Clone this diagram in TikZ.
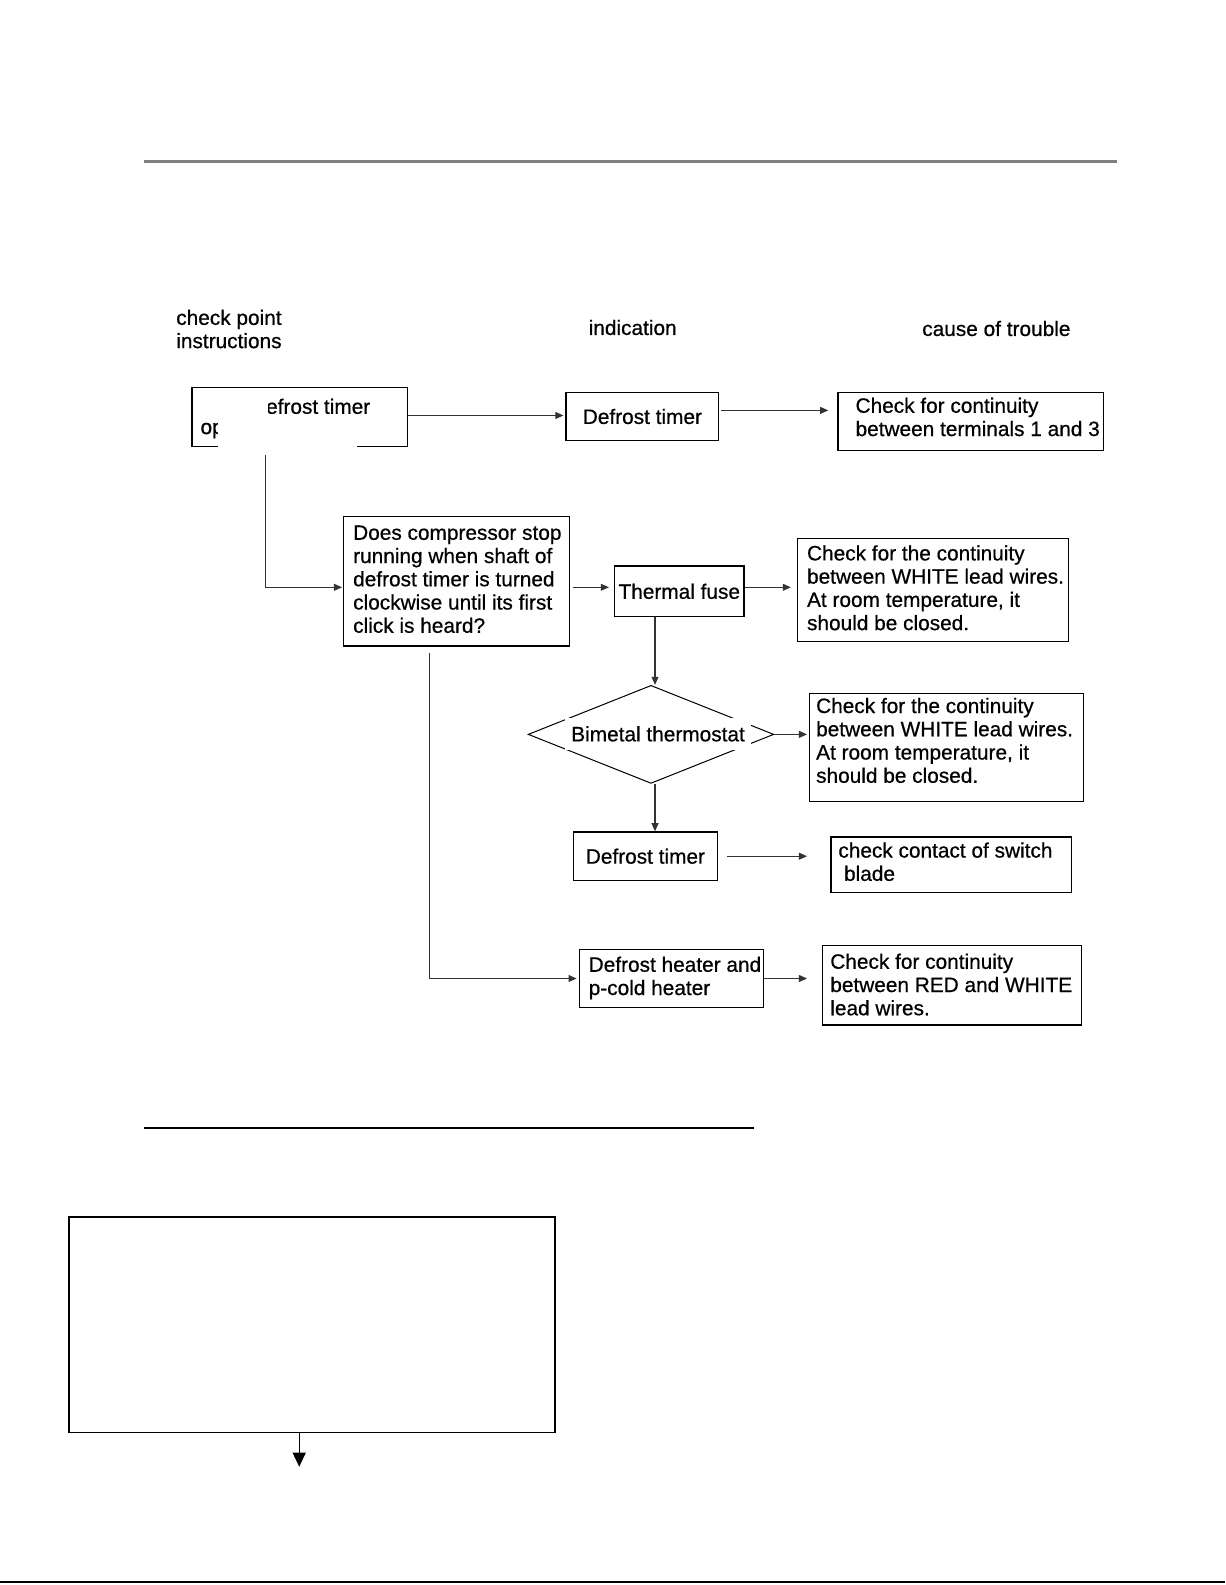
\documentclass[tikz,border=0pt]{standalone}
\usepackage{fontspec}
\setmainfont{Liberation Sans}
\newfontfamily\diagfont{Liberation Sans}[FakeBold=0.6]
\usetikzlibrary{arrows.meta,shapes.geometric}
\begin{document}
\begin{tikzpicture}[x=0.5pt,y=-0.5pt,
  txt/.style={font=\diagfont\fontsize{10.3pt}{11.5pt}\selectfont, inner sep=0pt, align=left},
  box/.style={draw=black, line width=0.6pt, inner sep=0pt, font=\diagfont\fontsize{10.3pt}{11.5pt}\selectfont, align=center},
  arr/.style={draw=black!80, line width=0.55pt, -{Triangle[length=4pt,width=3.4pt]}},
  bigarr/.style={draw=black, line width=0.5pt, -{Triangle[length=7pt,width=6.5pt]}}]
\useasboundingbox (0,0) rectangle (1212,1568);
\fill[white] (0,0) rectangle (1212,1568);

% rules
\draw[line width=1.5pt, draw=black!50] (142,160) -- (1105,160);
\draw[line width=1pt] (142,1116) -- (746,1116);
\draw[line width=1pt] (0,1565) -- (1212,1565);

% headers
\node[txt, anchor=west] (h1) at (174,325.5) {check point\\instructions};
\node[txt, anchor=west] (h2) at (582,324) {indication};
\node[txt, anchor=west] (h3) at (912,325) {cause of trouble};

% boxes
\node[box, minimum width=106.5pt, minimum height=29.5pt] (A) at (296.5,412.5) {};
\node[txt, anchor=west] (At1) at (248,402) {Defrost timer};
\node[txt, anchor=west] (At2) at (198,426) {op};

\node[box, minimum width=75.5pt, minimum height=24pt] (B1) at (635.5,412) {Defrost timer};
\node[box, minimum width=131.5pt, minimum height=29pt] (C1) at (960.5,417) {};
\node[txt, anchor=west] (C1t) at (846,412.5) {Check for continuity\\between terminals 1 and 3};

\node[box, minimum width=111.5pt, minimum height=64pt] (D) at (451.5,575) {};
\node[txt, anchor=west] (Dt) at (349,573) {Does compressor stop\\running when shaft of\\defrost timer is turned\\clockwise until its first\\click is heard?};

\node[box, minimum width=64pt, minimum height=25pt] (E) at (672,585) {Thermal fuse};
\node[box, minimum width=134pt, minimum height=51pt] (F1) at (923,584) {};
\node[txt, anchor=west] (F1t) at (798,581.5) {Check for the continuity\\between WHITE lead wires.\\At room temperature, it\\should be closed.};

\node[draw=black, line width=0.5pt, diamond, minimum width=121.5pt, minimum height=48.5pt, inner sep=0pt] (G) at (644,726.5) {};
\node[txt, fill=white, inner xsep=3pt, inner ysep=4.2pt] (Gt) at (651,726) {Bimetal thermostat};

\node[box, minimum width=135.5pt, minimum height=53.5pt] (H1) at (936.5,739.5) {};
\node[txt, anchor=west] (H1t) at (807,732.5) {Check for the continuity\\between WHITE lead wires.\\At room temperature, it\\should be closed.};

\node[box, minimum width=71.5pt, minimum height=24pt] (I) at (638.5,847) {Defrost timer};
\node[box, minimum width=119pt, minimum height=27.5pt] (J) at (941,855.5) {};
\node[txt, anchor=west] (Jt) at (829,852.5) {check contact of switch\\\hspace*{2.8pt}blade};

\node[box, minimum width=91pt, minimum height=29pt] (K) at (664,968) {};
\node[txt, anchor=west] (Kt) at (582,967.5) {Defrost heater and\\p-cold heater};
\node[box, minimum width=128pt, minimum height=39.5pt] (L) at (942,974.5) {};
\node[txt, anchor=west] (Lt) at (821,974) {Check for continuity\\between RED and WHITE\\lead wires.};

\node[box, line width=0.8pt, minimum width=240.5pt, minimum height=106.5pt] (M) at (308.5,1310.5) {};
\coordinate (Mend) at (296,1451);

% connectors
\draw[arr] (A.east |- 0,411) -- ([xshift=-1pt]B1.west |- 0,411);
\draw[arr] ([xshift=1pt]B1.east |- 0,406) -- ([xshift=-4.5pt]C1.west |- 0,406);
\draw[arr] (A.south -| 263,0) |- ([xshift=-0.5pt]D.west |- 0,581);
\draw[arr] ([xshift=1.5pt]D.east |- 0,581) -- ([xshift=-2.5pt]E.west |- 0,581);
\draw[arr] (E.east |- 0,581) -- ([xshift=-3pt]F1.west |- 0,581);
\draw[arr] (E.south -| 648,0) -- (G.north -| 648,0);
\draw[arr] (G.east) -- ([xshift=-1pt]H1.west |- G.east);
\draw[arr] (G.south -| 648,0) -- (I.north -| 648,0);
\draw[arr] ([xshift=4.5pt]I.east) -- ([xshift=-11.5pt]J.west |- I.east);
\draw[arr] ([yshift=-3pt]D.south -| 425,0) |- ([xshift=-1pt]K.west);
\draw[arr] (K.east) -- ([xshift=-7.5pt]L.west |- K.east);
\draw[bigarr] (M.south -| Mend) -- (Mend);

% occluders over the first box
\fill[white] (216,388) rectangle (265,417);
\fill[white] (216,417) rectangle (353,450);
\end{tikzpicture}
\end{document}
